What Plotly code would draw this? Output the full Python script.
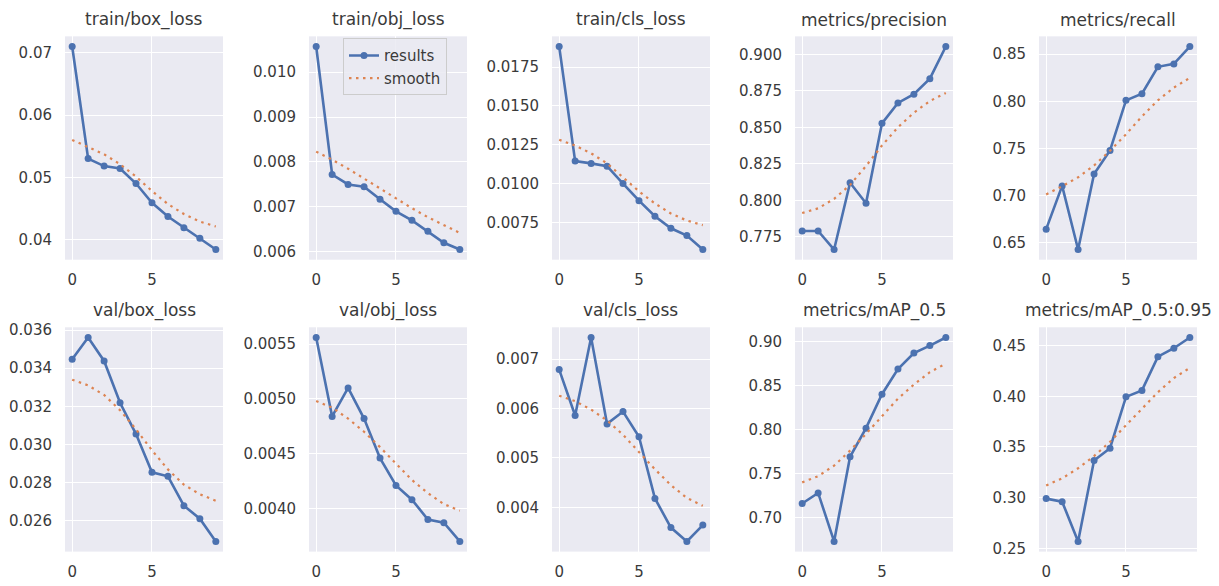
import plotly.graph_objects as go

epochs = list(range(10))

panel_titles = ["train/box_loss", "train/obj_loss", "train/cls_loss", "metrics/precision", "metrics/recall",
                "val/box_loss", "val/obj_loss", "val/cls_loss", "metrics/mAP_0.5", "metrics/mAP_0.5:0.95"]

train_box_loss = [0.0710, 0.0530, 0.0518, 0.0514, 0.0490, 0.0459, 0.0437, 0.0419, 0.0402, 0.0384]
train_box_loss_smooth = [0.0560, 0.0549, 0.0537, 0.0521, 0.0501, 0.0478, 0.0457, 0.0441, 0.0429, 0.0421]
train_obj_loss = [0.01057, 0.00772, 0.00750, 0.00745, 0.00717, 0.00690, 0.00670, 0.00646, 0.00620, 0.00605]
train_obj_loss_smooth = [0.00823, 0.00805, 0.00785, 0.00763, 0.00740, 0.00718, 0.00697, 0.00677, 0.00659, 0.00642]
train_cls_loss = [0.01883, 0.01145, 0.01130, 0.01112, 0.01000, 0.00890, 0.00790, 0.00712, 0.00665, 0.00575]
train_cls_loss_smooth = [0.01282, 0.01245, 0.01195, 0.01130, 0.01040, 0.00950, 0.00872, 0.00807, 0.00762, 0.00732]
precision = [0.7790, 0.7790, 0.7663, 0.8120, 0.7980, 0.8527, 0.8667, 0.8727, 0.8833, 0.9053]
precision_smooth = [0.7913, 0.7945, 0.8010, 0.8105, 0.8235, 0.8375, 0.8500, 0.8600, 0.8680, 0.8735]
recall = [0.6646, 0.7104, 0.6430, 0.7229, 0.7480, 0.8010, 0.8080, 0.8365, 0.8396, 0.8580]
recall_smooth = [0.7014, 0.7100, 0.7195, 0.7320, 0.7476, 0.7650, 0.7840, 0.8010, 0.8145, 0.8248]
val_box_loss = [0.03447, 0.03561, 0.03438, 0.03219, 0.03055, 0.02855, 0.02834, 0.02680, 0.02612, 0.02493]
val_box_loss_smooth = [0.03340, 0.03310, 0.03260, 0.03180, 0.03080, 0.02970, 0.02870, 0.02790, 0.02740, 0.02706]
val_obj_loss = [0.00556, 0.00484, 0.00510, 0.00482, 0.00446, 0.00421, 0.00408, 0.00390, 0.00387, 0.00370]
val_obj_loss_smooth = [0.00498, 0.00492, 0.00482, 0.00470, 0.00456, 0.00441, 0.00426, 0.00414, 0.00404, 0.00398]
val_cls_loss = [0.00679, 0.00586, 0.00744, 0.00569, 0.00594, 0.00543, 0.00418, 0.00359, 0.00331, 0.00364]
val_cls_loss_smooth = [0.00626, 0.00615, 0.00598, 0.00576, 0.00547, 0.00512, 0.00477, 0.00445, 0.00419, 0.00403]
map50 = [0.7160, 0.7280, 0.6730, 0.7690, 0.8015, 0.8400, 0.8685, 0.8867, 0.8952, 0.9044]
map50_smooth = [0.7400, 0.7470, 0.7590, 0.7760, 0.7950, 0.8150, 0.8350, 0.8510, 0.8650, 0.8748]
map50_95 = [0.2990, 0.2960, 0.2568, 0.3366, 0.3487, 0.3994, 0.4058, 0.4391, 0.4474, 0.4580]
map50_95_smooth = [0.3120, 0.3190, 0.3290, 0.3410, 0.3550, 0.3710, 0.3880, 0.4040, 0.4180, 0.4280]

x_ticks = [0, 5]
x_tick_text = ["0", "5"]
yticks_train_box = [0.04, 0.05, 0.06, 0.07]
yticks_train_obj = [0.006, 0.007, 0.008, 0.009, 0.010]
yticks_train_cls = [0.0075, 0.0100, 0.0125, 0.0150, 0.0175]
yticks_precision = [0.775, 0.800, 0.825, 0.850, 0.875, 0.900]
yticks_recall = [0.65, 0.70, 0.75, 0.80, 0.85]
yticks_val_box = [0.026, 0.028, 0.030, 0.032, 0.034, 0.036]
yticks_val_obj = [0.0040, 0.0045, 0.0050, 0.0055]
yticks_val_cls = [0.004, 0.005, 0.006, 0.007]
yticks_map50 = [0.70, 0.75, 0.80, 0.85, 0.90]
yticks_map50_95 = [0.25, 0.30, 0.35, 0.40, 0.45]

panels = [
    (train_box_loss, train_box_loss_smooth, yticks_train_box, 2),
    (train_obj_loss, train_obj_loss_smooth, yticks_train_obj, 3),
    (train_cls_loss, train_cls_loss_smooth, yticks_train_cls, 4),
    (precision, precision_smooth, yticks_precision, 3),
    (recall, recall_smooth, yticks_recall, 2),
    (val_box_loss, val_box_loss_smooth, yticks_val_box, 3),
    (val_obj_loss, val_obj_loss_smooth, yticks_val_obj, 4),
    (val_cls_loss, val_cls_loss_smooth, yticks_val_cls, 3),
    (map50, map50_smooth, yticks_map50, 2),
    (map50_95, map50_95_smooth, yticks_map50_95, 2),
]

W, H = 1219, 586
col_left = [65, 309, 552, 795, 1039]
col_w = 158
row_top = [31, 328]
row_h = [228, 229]

BLUE = "#4C72B0"
ORANGE = "#DD8452"
BG = "#EAEAF2"
TXT = "#3a3a3a"
FONT = "DejaVu Sans"

fig = go.Figure()
layout = dict(
    width=W, height=H, margin=dict(l=0, r=0, t=0, b=0),
    paper_bgcolor="white", plot_bgcolor=BG,
    font=dict(family=FONT, size=15, color=TXT),
    showlegend=True,
    legend=dict(x=343 / W, y=1 - 33 / H, xanchor="left", yanchor="top",
                bgcolor="rgba(234,234,242,0.85)", bordercolor="#CCCCCC", borderwidth=1,
                font=dict(size=15, color=TXT), tracegroupgap=0, itemwidth=30),
    annotations=[],
    hovermode=False,
)

for i, (res, smo, yt, dec) in enumerate(panels):
    r, c = divmod(i, 5)
    idx = "" if i == 0 else str(i + 1)
    xa, ya = "x" + idx, "y" + idx
    fig.add_trace(go.Scatter(x=epochs, y=res, mode="lines+markers", name="results",
                             line=dict(color=BLUE, width=2.6), marker=dict(size=7, color=BLUE),
                             xaxis=xa, yaxis=ya, showlegend=(i == 0)))
    fig.add_trace(go.Scatter(x=epochs, y=smo, mode="lines", name="smooth",
                             line=dict(color=ORANGE, width=2.2, dash="2.5px,4.5px"),
                             xaxis=xa, yaxis=ya, showlegend=(i == 0)))
    allv = res + smo
    lo, hi = min(allv), max(allv)
    pad = 0.05 * (hi - lo)
    x0 = col_left[c] / W
    x1 = (col_left[c] + col_w) / W
    y1 = 1 - row_top[r] / H
    y0 = 1 - (row_top[r] + row_h[r]) / H
    layout["xaxis" + idx] = dict(domain=[x0, x1], range=[-0.45, 9.45], anchor=ya,
                                 tickvals=x_ticks, ticktext=x_tick_text, showgrid=True,
                                 gridcolor="white", gridwidth=1.3, zeroline=False, showline=False,
                                 ticks="", ticklabelstandoff=9, tickfont=dict(size=15, color=TXT))
    layout["yaxis" + idx] = dict(domain=[y0, y1], range=[lo - pad, hi + pad], anchor=xa,
                                 tickvals=yt, ticktext=[f"{v:.{dec}f}" for v in yt], showgrid=True,
                                 gridcolor="white", gridwidth=1.3, zeroline=False, showline=False,
                                 ticks="", ticklabelstandoff=12, tickfont=dict(size=15, color=TXT))
    layout["annotations"].append(dict(text=panel_titles[i], x=(x0 + x1) / 2, y=y1, xref="paper", yref="paper",
                                      xanchor="center", yanchor="bottom", yshift=4, showarrow=False,
                                      font=dict(size=17, color=TXT, family=FONT)))

fig.update_layout(**layout)
fig.write_html("out.html", config={"displayModeBar": False},
               post_script="document.body.style.margin='0';document.body.style.overflow='hidden';")
